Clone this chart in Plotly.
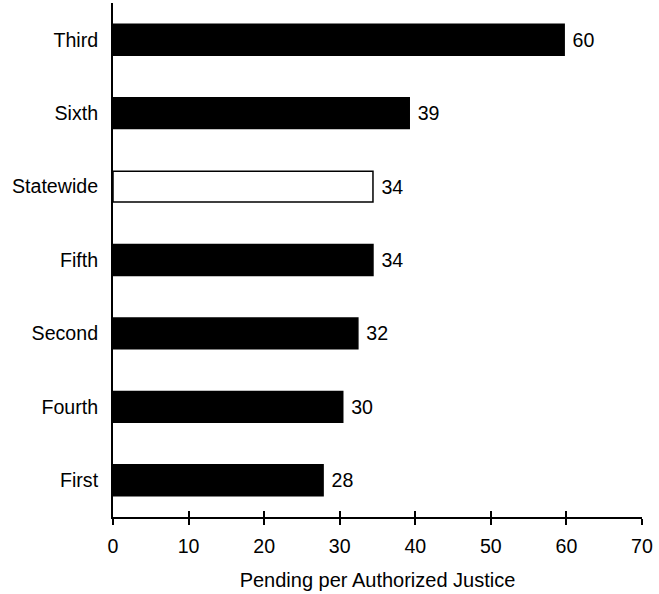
import plotly.graph_objects as go

categories = ["Third", "Sixth", "Statewide", "Fifth", "Second", "Fourth", "First"]
values = [59.7, 39.2, 34.4, 34.4, 32.4, 30.4, 27.8]
value_labels = ["60", "39", "34", "34", "32", "30", "28"]
x_ticks = [0, 10, 20, 30, 40, 50, 60, 70]

colors = ["white" if c == "Statewide" else "black" for c in categories]

FONT = "Liberation Sans, Arial, sans-serif"
FS = 19.6

fig = go.Figure()
fig.add_trace(go.Bar(
    y=categories, x=values, orientation="h",
    marker=dict(color=colors, line=dict(color="black", width=1.5)),
    width=0.42,
    text=value_labels, textposition="outside",
    texttemplate=" %{text}",
    textfont=dict(size=FS, color="black", family=FONT),
    cliponaxis=False, showlegend=False, hoverinfo="skip",
))
# invisible trace to carry the inside tick marks axis
fig.add_trace(go.Scatter(x=[0], y=[categories[0]], xaxis="x2", mode="markers",
                         marker=dict(opacity=0), showlegend=False, hoverinfo="skip"))

fig.update_layout(
    width=659, height=594,
    margin=dict(l=113, r=17, t=3, b=77),
    plot_bgcolor="white", paper_bgcolor="white",
    font=dict(family=FONT, size=FS, color="black"),
    xaxis=dict(
        range=[0, 70], tickvals=x_ticks, ticks="outside", ticklen=6, tickwidth=2,
        tickcolor="black", showline=True, linecolor="black", linewidth=2,
        showgrid=False, zeroline=False, ticklabelstandoff=4,
        tickfont=dict(size=FS),
        title=dict(text="Pending per Authorized Justice", font=dict(size=20), standoff=17),
    ),
    xaxis2=dict(
        range=[0, 70], tickvals=x_ticks, ticks="inside", ticklen=6, tickwidth=2,
        tickcolor="black", overlaying="x", anchor="y", side="bottom",
        showticklabels=False, showline=False, showgrid=False, zeroline=False,
    ),
    yaxis=dict(
        categoryorder="array", categoryarray=categories, autorange="reversed",
        showline=True, linecolor="black", linewidth=2, ticks="",
        showgrid=False, zeroline=False, ticklabelstandoff=9,
        tickfont=dict(size=FS),
    ),
    bargap=0.58,
)

fig.write_html("out.html", config={"displayModeBar": False},
               post_script="document.body.style.margin='0';")
